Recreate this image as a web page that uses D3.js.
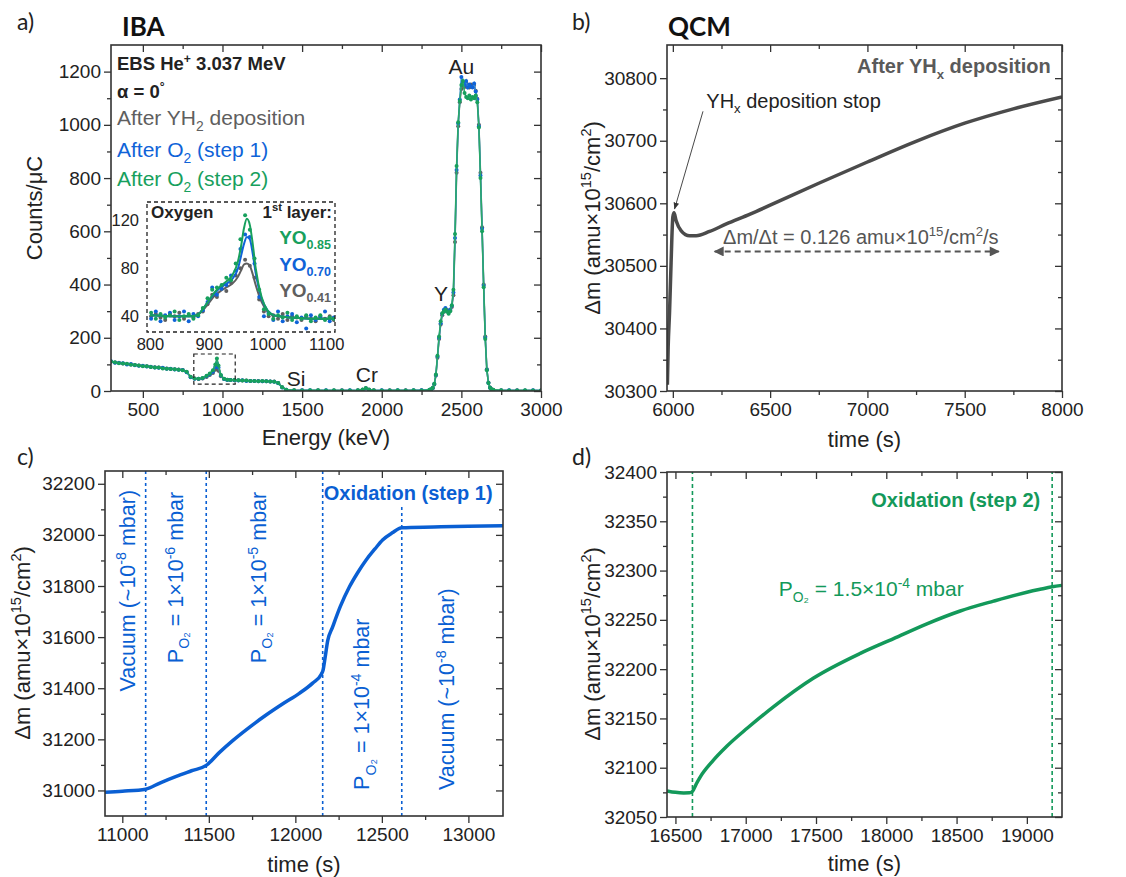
<!DOCTYPE html>
<html>
<head>
<meta charset="utf-8">
<title>IBA / QCM oxidation of YHx</title>
<script src="https://d3js.org/d3.v7.min.js"></script>
<style>
  body { margin: 0; background: #fff; }
</style>
</head>
<body>
<svg id="fig" width="1126" height="877"></svg>
<script>
// ---------- data ----------

// a) EBS spectra (keV, counts/uC)
const ebsEnergy = [300,325,350,375,400,425,450,475,500,525,550,575,600,625,650,675,700,725,750,775,800,825,850,875,900,
  920,940,955,965,975,990,1010,1030,1050,
  1075,1100,1125,1150,1175,1200,1225,1250,1275,1300,1325,1350,1375,1400,
  1450,1500,1550,1600,1650,1700,1750,1800,1850,1880,1900,1920,1950,2000,2050,2100,2150,2200,2250,2300,
  2310,2320,2330,2340,2350,2360,2370,2380,2390,2400,2410,2420,2430,2440,2450,2460,2470,2480,2490,2500,
  2510,2520,2530,2540,2550,2560,2570,2580,2590,2600,2610,2620,2630,2640,2650,2660,2670,2680,2690,2700,
  2750,2800,2850,2900,2950,3000];
const ebsYH2 = [110,107,106,103,101,100,98,96,94,93,90,89,88,86,85,83,82,81,79,71,53,47,45,47,53,
  60,68,80,90,76,55,45,42,41,
  40,40,39,39,38,38,38,37,37,36,36,30,14,5,
  3,3,2,3,2,2,3,2,3,5,10,5,3,2,3,2,3,2,3,4,
  6,10,24,58,125,195,250,285,298,308,304,298,303,316,360,560,820,995,1085,1135,
  1150,1142,1158,1148,1140,1152,1146,1150,1128,1098,1000,820,615,400,205,82,32,13,7,4,
  3,2,3,2,2,2];
const ebsStep1 = [112,106,105,104,100,101,97,95,95,92,91,88,87,87,84,84,81,80,79,70,52,46,46,48,55,
  63,72,90,104,88,58,45,41,41,
  40,39,40,38,38,38,37,37,37,36,35,29,13,5,
  2,3,3,2,3,2,2,3,2,5,9,5,2,3,2,3,2,3,3,5,
  6,11,26,60,130,200,255,290,305,312,300,296,306,320,370,575,830,1005,1095,1180,
  1160,1150,1165,1140,1152,1145,1140,1155,1125,1095,995,810,610,395,200,80,30,12,6,4,
  2,3,2,2,3,2];
const ebsStep2 = [111,108,104,103,102,99,98,96,93,93,90,88,88,85,84,83,82,80,78,72,54,47,46,49,57,
  66,78,100,122,96,60,46,42,41,
  41,40,39,39,38,38,37,38,37,36,35,30,14,5,
  3,2,3,3,2,3,2,2,3,6,11,6,3,2,2,3,2,3,2,5,
  7,12,27,62,132,205,262,292,300,306,298,290,300,322,380,590,845,1010,1090,1150,
  1165,1120,1105,1100,1110,1095,1105,1100,1110,1085,990,800,600,390,195,78,30,12,7,5,
  3,2,2,3,2,2];

// a) inset: oxygen region, simulated curves
const oxFitEnergy = [800,820,840,860,880,890,900,910,920,930,940,950,955,960,965,970,975,980,990,1000,1010,1020,1040,1060,1080,1100,1115];
const oxFitYH2   = [41,40.5,40,40,41,45,51,57,61,64,67,73,78,83,84,82,75,66,52,44,41,40,39,38.5,38,38,38];
const oxFitStep1 = [41,40.5,40,40,41,46,53,59,64,67,71,80,90,100,106,104,92,76,55,45,41,40,39,38.5,38,38,38];
const oxFitStep2 = [41,40.5,40,40,41,46,53,60,65,69,74,86,98,113,121,116,100,80,56,45,41,40,39,38.5,38,38,38];
// a) inset: measured points
const oxDotEnergy = [802,810,818,826,834,842,850,858,866,874,882,890,898,906,914,922,930,938,946,954,
  962,970,978,986,994,1002,1010,1018,1026,1034,1042,1050,1058,1066,1074,1082,1090,1098,1106,1113];
const oxDotYH2   = [40,42,39,37,42,40,43,38,41,39,42,44,50,58,56,65,61,68,74,80,87,82,72,54,44,40,41,38,42,37,40,39,37,40,38,36,39,38,40,37];
const oxDotStep1 = [38,44,36,41,43,37,40,44,36,42,40,45,52,64,58,63,66,74,78,96,108,106,84,56,40,43,37,44,36,40,42,35,39,30,41,37,40,44,36,39];
const oxDotStep2 = [43,38,42,39,41,44,37,40,42,38,41,47,55,62,64,66,72,70,84,104,124,112,88,62,46,42,38,41,39,43,37,40,38,41,36,39,41,37,39,38];

// b) QCM after YHx deposition
const qcmBTime = [5972,5976,5983,5991,6000,6006,6017,6043,6086,6120,6189,6275,6400,6500,6750,7000,7250,7500,7750,8000];
const qcmBMass = [30310,30370,30425,30505,30578,30585,30572,30556,30548,30548,30555,30567,30583,30597,30632,30666,30699,30728,30751,30770];

// c) QCM oxidation step 1
const qcmCTime = [10900,11000,11135,11220,11312,11400,11485,11560,11638,11740,11831,11930,12023,12100,12150,12160,12172,12187,
  12215,12260,12312,12360,12408,12460,12504,12560,12615,12800,13000,13200];
const qcmCMass = [30993,30997,31005,31030,31055,31077,31098,31148,31195,31250,31295,31340,31380,31420,31455,31470,31520,31586,
  31639,31720,31796,31852,31901,31945,31980,32008,32028,32031,32034,32036];
const stepCTimes = [11135, 11485, 12158, 12615];

// d) QCM oxidation step 2
const qcmDTime = [16440,16500,16559,16600,16621,16650,16678,16760,16867,17010,17199,17483,17815,18052,18289,18526,18763,19000,19095,19180,19250];
const qcmDMass = [32076.5,32075,32074.4,32074.5,32076,32084,32091,32106,32122,32140,32162,32191,32216,32231,32246,32259,32269,32278,32281,32283.5,32285];
const stepDTimes = [16621, 19180];

// ticks
const aXMajor = [500,1000,1500,2000,2500,3000], aXMinor = [750,1250,1750,2250,2750];
const aYMajor = [0,200,400,600,800,1000,1200], aYMinor = [100,300,500,700,900,1100];
const insetXTicks = [800,900,1000,1100], insetYTicks = [40,80,120];
const bXMajor = [6000,6500,7000,7500,8000], bXMinor = [6250,6750,7250,7750];
const bYMajor = [30300,30400,30500,30600,30700,30800], bYMinor = [30350,30450,30550,30650,30750];
const cXMajor = [11000,11500,12000,12500,13000], cXMinor = [11250,11750,12250,12750];
const cYMajor = [31000,31200,31400,31600,31800,32000,32200], cYMinor = [31100,31300,31500,31700,31900,32100];
const dXMajor = [16500,17000,17500,18000,18500,19000], dXMinor = [16750,17250,17750,18250,18750];
const dYMajor = [32050,32100,32150,32200,32250,32300,32350,32400], dYMinor = [32075,32125,32175,32225,32275,32325,32375];

// ---------- drawing ----------
const svg = d3.select("#fig");
const FONT = '"Liberation Sans", Arial, sans-serif';
const HEAD = 'Lato, "Open Sans", sans-serif';
const AXIS = "#333";
const GRAY = "#5f5f5f", BLUE = "#0f63d8", GREEN = "#17a05d";
const QGRAY = "#4b4b4b", QBLUE = "#0a5fd3", QGREEN = "#13995a";
const TITLE = 22;

// text with sub/superscripts; parts = [[string, "sup"|"sub"|undefined], ...]
function label(x, y, parts, o = {}) {
  const fs = o.size || 20;
  const t = svg.append("text")
    .attr("x", x).attr("y", y)
    .attr("font-family", o.family || FONT)
    .attr("font-size", fs)
    .attr("font-weight", o.bold ? "bold" : null)
    .attr("fill", o.color || "#222")
    .attr("text-anchor", o.anchor || "start")
    .style("white-space", "pre");
  if (o.rotate) t.attr("transform", `rotate(${o.rotate},${x},${y})`);
  if (typeof parts === "string") parts = [[parts]];
  let shift = 0;
  parts.forEach(([s, m]) => {
    const off = m === "sup" ? -0.4 * fs : m === "sub" ? 0.28 * fs : 0;
    t.append("tspan").attr("dy", off - shift).attr("font-size", m ? fs * 0.66 : fs).text(s);
    shift = off;
  });
  return t;
}

function axes(x, y, xMaj, xMin, yMaj, yMin) {
  const [xl, xr] = x.range(), [yb, yt] = y.range();
  const g = svg.append("g");
  const put = (axis, tx, ty) => {
    const a = g.append("g").attr("transform", `translate(${tx},${ty})`).call(axis);
    a.select(".domain").remove();
    a.selectAll("line").attr("stroke", AXIS).attr("stroke-width", 1.3);
    a.selectAll("text").attr("font-family", FONT).attr("font-size", 19).attr("fill", "#222");
  };
  const f = d3.format("d");
  put(d3.axisBottom(x).tickValues(xMin).tickSize(4).tickFormat(""), 0, yb);
  put(d3.axisBottom(x).tickValues(xMaj).tickSize(7).tickPadding(5).tickFormat(f), 0, yb);
  put(d3.axisTop(x).tickValues(xMin).tickSize(-4).tickFormat(""), 0, yt);
  put(d3.axisTop(x).tickValues(xMaj).tickSize(-7).tickFormat(""), 0, yt);
  put(d3.axisLeft(y).tickValues(yMin).tickSize(4).tickFormat(""), xl, 0);
  put(d3.axisLeft(y).tickValues(yMaj).tickSize(7).tickPadding(3).tickFormat(f), xl, 0);
  put(d3.axisRight(y).tickValues(yMin).tickSize(-4).tickFormat(""), xr, 0);
  put(d3.axisRight(y).tickValues(yMaj).tickSize(-7).tickFormat(""), xr, 0);
  g.append("rect")
    .attr("x", xl).attr("y", yt).attr("width", xr - xl).attr("height", yb - yt)
    .attr("fill", "none").attr("stroke", AXIS).attr("stroke-width", 1.6);
}

const defs = svg.append("defs");
function clip(id, x, y) {
  const [xl, xr] = x.range(), [yb, yt] = y.range();
  defs.append("clipPath").attr("id", id).append("rect")
    .attr("x", xl).attr("y", yt).attr("width", xr - xl).attr("height", yb - yt);
  return `url(#${id})`;
}
defs.append("marker").attr("id", "tipThin").attr("viewBox", "0 0 10 10")
  .attr("refX", 9).attr("refY", 5).attr("markerWidth", 7).attr("markerHeight", 7)
  .attr("markerUnits", "userSpaceOnUse").attr("orient", "auto")
  .append("path").attr("d", "M0,1L10,5L0,9Z").attr("fill", "#333");
defs.append("marker").attr("id", "tipGray").attr("viewBox", "0 0 10 10")
  .attr("refX", 9).attr("refY", 5).attr("markerWidth", 14).attr("markerHeight", 10)
  .attr("markerUnits", "userSpaceOnUse").attr("orient", "auto-start-reverse")
  .append("path").attr("d", "M0,0L10,5L0,10Z").attr("fill", "#555");

// ---------- panel a ----------
const xA = d3.scaleLinear().domain([300, 3000]).range([111, 541]);
const yA = d3.scaleLinear().domain([0, 1300]).range([391, 45]);
const clipA = clip("clipA", xA, yA);
const lineA = d3.line().x(d => xA(d[0])).y(d => yA(d[1]));
const spectra = [[ebsYH2, GRAY, "#6d6d6d"], [ebsStep1, BLUE, "#3a8fe0"], [ebsStep2, GREEN, "#2aa86a"]];
const gA = svg.append("g").attr("clip-path", clipA);
spectra.forEach(([vals, dot, ln]) => {
  const pts = ebsEnergy.map((e, i) => [e, vals[i]]);
  gA.append("path").datum(pts).attr("d", lineA)
    .attr("fill", "none").attr("stroke", ln).attr("stroke-width", 1.6);
  gA.selectAll(null).data(pts).join("circle")
    .attr("cx", d => xA(d[0])).attr("cy", d => yA(d[1])).attr("r", 2).attr("fill", dot);
});
// box marking the oxygen signal
svg.append("rect")
  .attr("x", xA(820)).attr("y", yA(139)).attr("width", xA(1080) - xA(820)).attr("height", yA(26) - yA(139))
  .attr("fill", "none").attr("stroke", "#222").attr("stroke-width", 1.2).attr("stroke-dasharray", "4,3");
axes(xA, yA, aXMajor, aXMinor, aYMajor, aYMinor);

// inset
const xI = d3.scaleLinear().domain([795, 1115]).range([147, 335]);
const yI = d3.scaleLinear().domain([27, 135]).range([332, 202]);
svg.append("rect").attr("x", 147).attr("y", 202).attr("width", 188).attr("height", 130).attr("fill", "#fff");
const clipI = clip("clipI", xI, yI);
const gI = svg.append("g").attr("clip-path", clipI);
const lineI = d3.line().x(d => xI(d[0])).y(d => yI(d[1])).curve(d3.curveMonotoneX);
[[oxDotYH2, oxFitYH2, GRAY], [oxDotStep1, oxFitStep1, BLUE], [oxDotStep2, oxFitStep2, GREEN]].forEach(([dots, fit, c]) => {
  gI.selectAll(null).data(oxDotEnergy.map((e, i) => [e, dots[i]])).join("circle")
    .attr("cx", d => xI(d[0])).attr("cy", d => yI(d[1])).attr("r", 2).attr("fill", c);
  gI.append("path").datum(oxFitEnergy.map((e, i) => [e, fit[i]])).attr("d", lineI)
    .attr("fill", "none").attr("stroke", c).attr("stroke-width", 2);
});
svg.append("rect").attr("x", 147).attr("y", 202).attr("width", 188).attr("height", 130)
  .attr("fill", "none").attr("stroke", "#222").attr("stroke-width", 1.3).attr("stroke-dasharray", "4,3");
const insetAxis = (axis, tx, ty) => {
  const a = svg.append("g").attr("transform", `translate(${tx},${ty})`).call(axis);
  a.select(".domain").remove();
  a.selectAll("line").remove();
  a.selectAll("text").attr("font-family", FONT).attr("font-size", 16.5).attr("fill", "#222");
};
insetAxis(d3.axisBottom(xI).tickValues(insetXTicks).tickSize(0).tickPadding(6).tickFormat(d3.format("d")), 0, 332);
insetAxis(d3.axisLeft(yI).tickValues(insetYTicks).tickSize(0).tickPadding(8).tickFormat(d3.format("d")), 147, 0);
label(151, 218, "Oxygen", { size: 17, bold: true });
label(332, 218, [["1"], ["st", "sup"], [" layer:"]], { size: 17, bold: true, anchor: "end" });
label(331, 244, [["YO"], ["0.85", "sub"]], { size: 19, bold: true, anchor: "end", color: GREEN });
label(331, 271, [["YO"], ["0.70", "sub"]], { size: 19, bold: true, anchor: "end", color: BLUE });
label(331, 297, [["YO"], ["0.41", "sub"]], { size: 19, bold: true, anchor: "end", color: GRAY });

// panel a texts
label(117, 70, [["EBS He"], ["+", "sup"], [" 3.037 MeV"]], { bold: true, size: 18.5 });
label(117, 98, [["α = 0"], ["°", "sup"]], { bold: true, size: 18.5 });
label(117, 125, [["After YH"], ["2", "sub"], [" deposition"]], { color: GRAY, size: 21 });
label(117, 157, [["After O"], ["2", "sub"], [" (step 1)"]], { color: BLUE, size: 21 });
label(117, 186, [["After O"], ["2", "sub"], [" (step 2)"]], { color: GREEN, size: 21 });
label(xA(2500), yA(1192), "Au", { anchor: "middle", size: 21 });
label(xA(2372), yA(340), "Y", { anchor: "middle", size: 21 });
label(xA(1462), yA(19), "Si", { anchor: "middle", size: 21 });
label(xA(1907), yA(34), "Cr", { anchor: "middle", size: 21 });
label(42, 208, "Counts/μC", { anchor: "middle", rotate: -90, size: TITLE });
label(326, 445, "Energy (keV)", { anchor: "middle", size: TITLE });
label(17, 30, "a)", { family: HEAD, size: 23 });
label(122, 36, "IBA", { family: HEAD, size: 26, bold: true, color: "#111" });

// ---------- panel b ----------
const xB = d3.scaleLinear().domain([5970, 8000]).range([667, 1062]);
const yB = d3.scaleLinear().domain([30300, 30853]).range([391, 45]);
svg.append("path").datum(qcmBTime.map((t, i) => [t, qcmBMass[i]]))
  .attr("clip-path", clip("clipB", xB, yB))
  .attr("d", d3.line().x(d => xB(d[0])).y(d => yB(d[1])).curve(d3.curveMonotoneX))
  .attr("fill", "none").attr("stroke", QGRAY).attr("stroke-width", 3.5).attr("stroke-linejoin", "round");
axes(xB, yB, bXMajor, bXMinor, bYMajor, bYMinor);
label(xB(7942), yB(30808), [["After YH"], ["x", "sub"], [" deposition"]], { bold: true, color: "#5a5a5a", anchor: "end" });
label(xB(6172), yB(30753), [["YH"], ["x", "sub"], [" deposition stop"]], {});
svg.append("line")
  .attr("x1", xB(6155)).attr("y1", yB(30747)).attr("x2", xB(6009)).attr("y2", yB(30591))
  .attr("stroke", "#333").attr("stroke-width", 0.9).attr("marker-end", "url(#tipThin)");
label(xB(6966), yB(30535), [["Δm/Δt = 0.126 amu×10"], ["15", "sup"], ["/cm"], ["2", "sup"], ["/s"]], { color: "#555", anchor: "middle" });
svg.append("line")
  .attr("x1", xB(6215)).attr("y1", yB(30523)).attr("x2", xB(7675)).attr("y2", yB(30523))
  .attr("stroke", "#555").attr("stroke-width", 2).attr("stroke-dasharray", "6,4")
  .attr("marker-start", "url(#tipGray)").attr("marker-end", "url(#tipGray)");
label(600, 218, [["Δm (amu×10"], ["15", "sup"], ["/cm"], ["2", "sup"], [")"]], { anchor: "middle", rotate: -90, size: TITLE });
label(864.5, 447, "time (s)", { anchor: "middle", size: TITLE });
label(572, 30, "b)", { family: HEAD, size: 23 });
label(668, 36, "QCM", { family: HEAD, size: 26, bold: true, color: "#111" });

// ---------- panel c ----------
const xC = d3.scaleLinear().domain([10900, 13200]).range([105, 503]);
const yC = d3.scaleLinear().domain([30900, 32250]).range([816, 471]);
svg.selectAll(null).data(stepCTimes).join("line")
  .attr("x1", d => xC(d)).attr("x2", d => xC(d))
  .attr("y1", 816).attr("y2", (d, i) => i === 3 ? yC(32112) : 471)
  .attr("stroke", QBLUE).attr("stroke-width", 1.6).attr("stroke-dasharray", "3,3");
svg.append("path").datum(qcmCTime.map((t, i) => [t, qcmCMass[i]]))
  .attr("clip-path", clip("clipC", xC, yC))
  .attr("d", d3.line().x(d => xC(d[0])).y(d => yC(d[1])).curve(d3.curveMonotoneX))
  .attr("fill", "none").attr("stroke", QBLUE).attr("stroke-width", 3.5).attr("stroke-linejoin", "round");
axes(xC, yC, cXMajor, cXMinor, cYMajor, cYMinor);
label(xC(13140), yC(32137), "Oxidation (step 1)", { bold: true, color: QBLUE, anchor: "end" });
const rot = { color: QBLUE, rotate: -90, size: 21.5 };
label(xC(11033) + 7, yC(31387), [["Vacuum (~10"], ["-8", "sup"], [" mbar)"]], rot);
label(xC(11312) + 7, yC(31498), [["P"], ["O₂", "sub"], [" = 1×10"], ["-6", "sup"], [" mbar"]], rot);
label(xC(11792) + 7, yC(31498), [["P"], ["O₂", "sub"], [" = 1×10"], ["-5", "sup"], [" mbar"]], rot);
label(xC(12388) + 7, yC(31002), [["P"], ["O₂", "sub"], [" = 1×10"], ["-4", "sup"], [" mbar"]], rot);
label(xC(12879) + 7, yC(31002), [["Vacuum (~10"], ["-8", "sup"], [" mbar)"]], rot);
label(30, 643, [["Δm (amu×10"], ["15", "sup"], ["/cm"], ["2", "sup"], [")"]], { anchor: "middle", rotate: -90, size: TITLE });
label(304, 872, "time (s)", { anchor: "middle", size: TITLE });
label(17, 465, "c)", { family: HEAD, size: 23 });

// ---------- panel d ----------
const xD = d3.scaleLinear().domain([16440, 19250]).range([667, 1062]);
const yD = d3.scaleLinear().domain([32050, 32400]).range([817, 472]);
svg.selectAll(null).data(stepDTimes).join("line")
  .attr("x1", d => xD(d)).attr("x2", d => xD(d)).attr("y1", 817).attr("y2", 472)
  .attr("stroke", QGREEN).attr("stroke-width", 1.6).attr("stroke-dasharray", "4,3");
svg.append("path").datum(qcmDTime.map((t, i) => [t, qcmDMass[i]]))
  .attr("clip-path", clip("clipD", xD, yD))
  .attr("d", d3.line().x(d => xD(d[0])).y(d => yD(d[1])).curve(d3.curveMonotoneX))
  .attr("fill", "none").attr("stroke", QGREEN).attr("stroke-width", 3.5).attr("stroke-linejoin", "round");
axes(xD, yD, dXMajor, dXMinor, dYMajor, dYMinor);
label(xD(19095), yD(32365), "Oxidation (step 2)", { bold: true, color: QGREEN, anchor: "end" });
label(xD(17235), yD(32274), [["P"], ["O₂", "sub"], [" = 1.5×10"], ["-4", "sup"], [" mbar"]], { color: QGREEN, size: 21 });
label(600, 644, [["Δm (amu×10"], ["15", "sup"], ["/cm"], ["2", "sup"], [")"]], { anchor: "middle", rotate: -90, size: TITLE });
label(864.5, 871, "time (s)", { anchor: "middle", size: TITLE });
label(572, 465, "d)", { family: HEAD, size: 23 });
</script>
</body>
</html>
